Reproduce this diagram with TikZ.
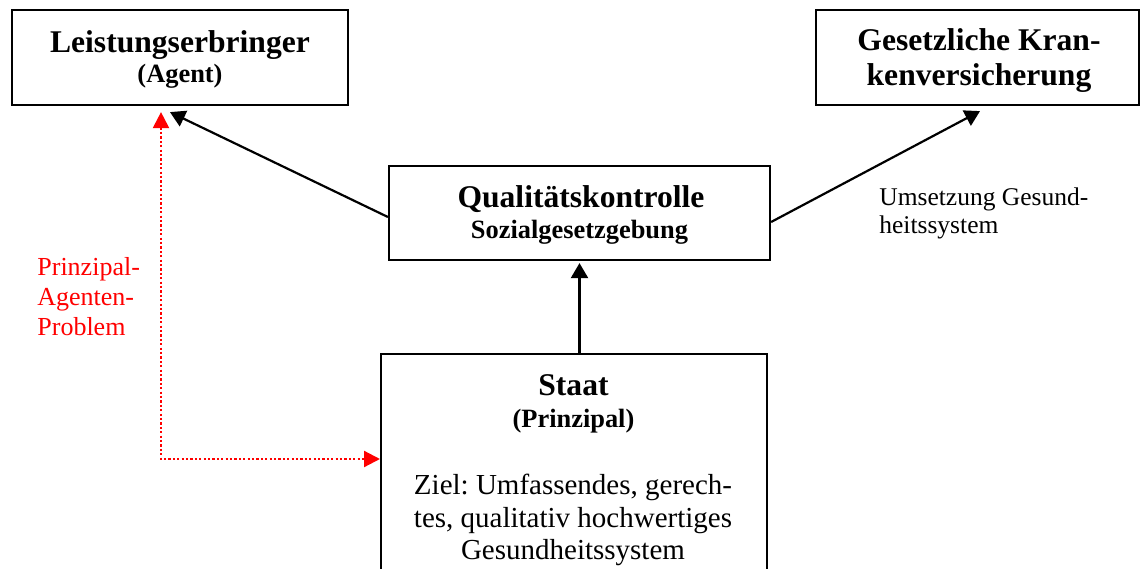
\documentclass[tikz,border=0pt]{standalone}
\usepackage{fontspec}
\setmainfont{Liberation Serif}
\usepackage{tikz}
\usetikzlibrary{arrows.meta}
\frenchspacing

\begin{document}
\begin{tikzpicture}[
    x=0.5pt, y=-0.5pt,
    box/.style = {draw, line width=1.1pt, inner sep=0pt},
    big/.style = {inner sep=0pt, anchor=base, font=\fontsize{15.8pt}{18pt}\selectfont\bfseries},
    small/.style = {inner sep=0pt, anchor=base, font=\fontsize{13.2pt}{15pt}\selectfont\bfseries},
    body/.style = {inner sep=0pt, anchor=base, font=\fontsize{14.5pt}{16pt}\selectfont},
    arr/.style = {line width=1.1pt, -{Triangle[width=8.5pt,length=7.5pt]}},
    pap/.style = {red, line width=1.1pt, dash pattern=on 1.1pt off 1.1pt,
      {Triangle[width=8pt,length=8pt]}-{Triangle[width=8pt,length=8pt]}}
  ]
    \useasboundingbox (0,0) rectangle (1141,568);
    \node[box, minimum width=168pt, minimum height=47.5pt] (lstg) at (180,57.5) {};
    \node[box, minimum width=161.5pt, minimum height=47.5pt] (gkv) at (977.5,57.5) {};
    \node[box, minimum width=190.5pt, minimum height=47pt] (qual) at (579.5,213) {};
    \node[box, minimum width=193pt, minimum height=120pt, anchor=north west] (staat) at (380,353) {};

    \node[big] (lstgA) at (180,52) {Leistungserbringer};
    \node[small] (lstgB) at (180,82) {(Agent)};
    \node[big] (gkvA) at (979,50) {Gesetzliche Kran-};
    \node[big] (gkvB) at (979,85) {kenversicherung};
    \node[big] (qualA) at (581,207) {Qualitätskontrolle};
    \node[small] (qualB) at (579.5,238) {Sozialgesetzgebung};
    \node[big] (staatA) at (573.5,395) {Staat};
    \node[small] (staatB) at (573.5,427) {(Prinzipal)};
    \node[body] (zielA) at (573,494) {Ziel: Umfassendes, gerech-};
    \node[body] (zielB) at (573,527) {tes, qualitativ hochwertiges};
    \node[body] (zielC) at (573,559) {Gesundheitssystem};

    \node[red, inner sep=0pt, anchor=north west, align=left,
      font=\fontsize{13pt}{15pt}\selectfont] (papT) at (37,257) {Prinzipal-\\Agenten-\\Problem};
    \node[inner sep=0pt, anchor=north west, align=left,
      font=\fontsize{12.75pt}{14pt}\selectfont] (ums) at (879,187.5) {Umsetzung Gesund-\\heitssystem};

    \draw[arr] ([yshift=-2pt]qual.west) -- ([xshift=-5pt,yshift=-3pt]lstg.south);
    \draw[arr] ([yshift=-4.5pt]qual.east) -- ([xshift=1.25pt,yshift=-2.5pt]gkv.south);
    \draw[arr] (staat.north -| qual.south) -- ([yshift=-1pt]qual.south);
    \draw[pap] ([xshift=-9.5pt,yshift=-3pt]lstg.south) |- ([yshift=-53pt]staat.north west);
\end{tikzpicture}
\end{document}
